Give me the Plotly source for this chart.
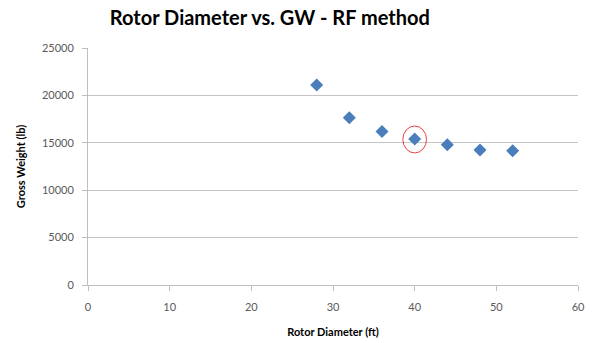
import plotly.graph_objects as go

rotor_diameter_ft = [28, 32, 36, 40, 44, 48, 52]
gross_weight_lb = [21100, 17650, 16200, 15400, 14800, 14250, 14150]
highlight_x = 40
highlight_y = 15350

x_ticks = [0, 10, 20, 30, 40, 50, 60]
y_ticks = [0, 5000, 10000, 15000, 20000, 25000]
y_tick_labels = ["0", "5000", "10000", "15000", "20000", "25000"]

fig = go.Figure()
fig.add_trace(go.Scatter(
    x=rotor_diameter_ft, y=gross_weight_lb, mode="markers",
    marker=dict(symbol="diamond", size=10, color="#4a7ebb"),
    showlegend=False,
))

fig.add_shape(type="circle", xref="x", yref="y",
              x0=highlight_x - 1.45, x1=highlight_x + 1.45,
              y0=highlight_y - 1420, y1=highlight_y + 1420,
              line=dict(color="#e8413f", width=1))

fig.update_layout(
    width=597, height=343,
    margin=dict(l=88, r=19, t=48, b=58),
    paper_bgcolor="white", plot_bgcolor="white",
    font=dict(family="Lato, Open Sans, sans-serif", color="#595959", size=11),
    title=dict(text="<b>Rotor Diameter vs. GW - RF method</b>",
               x=0.452, xanchor="center", y=0.947, yanchor="middle",
               font=dict(size=20, color="black")),
    xaxis=dict(range=[0, 60], tickvals=x_ticks, showgrid=False,
               showline=True, linecolor="#bfbfbf", ticks="outside",
               ticklen=5, tickcolor="#bfbfbf", zeroline=False,
               ticklabelstandoff=7, automargin=False,
               title=dict(text="<b>Rotor Diameter (ft)</b>", standoff=16,
                          font=dict(size=11, color="black"))),
    yaxis=dict(range=[0, 25000], tickvals=y_ticks, ticktext=y_tick_labels,
               showgrid=True, automargin=False,
               gridcolor="#c4c4c4", showline=True, linecolor="#bfbfbf",
               ticks="outside", ticklen=5, tickcolor="#bfbfbf",
               zeroline=False, ticklabelstandoff=6,
               title=dict(text="<b>Gross Weight (lb)</b>", standoff=14,
                          font=dict(size=11, color="black"))),
)

fig.write_html("out.html")
